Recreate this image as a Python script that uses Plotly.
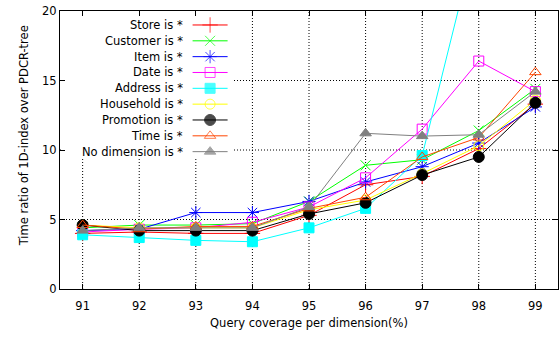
import plotly.graph_objects as go

coverage = [91, 92, 93, 94, 95, 96, 97, 98, 99]

store = [4.0, 4.1, 4.0, 4.0, 5.3, 7.5, 8.1, 10.1, 13.3]
customer = [4.4, 4.6, 4.6, 4.7, 6.3, 8.9, 9.3, 11.4, 14.4]
item = [4.2, 4.3, 5.5, 5.5, 6.3, 7.7, 8.8, 10.5, 13.1]
date = [4.1, 4.3, 4.4, 4.8, 5.9, 8.0, 11.5, 16.4, 14.2]
address = [3.9, 3.7, 3.5, 3.4, 4.4, 5.8, 9.6, 26.0, 27.0]
household = [4.6, 4.4, 4.4, 4.4, 5.7, 6.4, 8.3, 10.3, 13.6]
promotion = [4.6, 4.2, 4.2, 4.2, 5.4, 6.2, 8.2, 9.5, 13.4]
time_ = [4.6, 4.3, 4.5, 4.5, 5.8, 6.6, 9.5, 10.9, 15.6]
no_dim = [4.2, 4.4, 4.4, 4.4, 5.9, 11.2, 11.0, 11.1, 14.2]

names = ["Store is *", "Customer is *", "Item is *", "Date is *", "Address is *",
         "Household is *", "Promotion is *", "Time is *", "No dimension is *"]
series = [store, customer, item, date, address, household, promotion, time_, no_dim]
colors = ["#ff0000", "#00ff00", "#0000ff", "#ff00ff", "#00ffff",
          "#ffff00", "#000000", "#ff4500", "#808080"]
symbols = ["cross-thin-open", "x-thin-open", "asterisk-open", "square-open", "square",
           "circle-open", "circle", "triangle-up-open", "triangle-up"]
sizes = [11, 10, 11, 10, 10, 10, 11, 10, 10]

y_ticks = [0, 5, 10, 15, 20]
x_range = [90.6, 99.4]
y_range = [0, 20]

FONT = "DejaVu Sans"

# plot-area geometry in pixels (for placing the key only)
PL, PR, PT, PB = 60.0, 557.7, 11.0, 289.3
W = PR - PL
H = PB - PT


def px_to_x(px):
    return x_range[0] + (px - PL) / W * (x_range[1] - x_range[0])


def py_to_y(py):
    return y_range[0] + (PB - py) / H * (y_range[1] - y_range[0])


fig = go.Figure()

# dotted grid drawn as shapes (below traces), then the opaque key box on top of it
for xv in coverage:
    fig.add_shape(type="line", xref="x", yref="y", x0=xv, x1=xv,
                  y0=y_range[0], y1=y_range[1],
                  line=dict(color="#000000", width=1, dash="1px,2px"), layer="below")
for yv in y_ticks[1:-1]:
    fig.add_shape(type="line", xref="x", yref="y", x0=x_range[0], x1=x_range[1],
                  y0=yv, y1=yv,
                  line=dict(color="#000000", width=1, dash="1px,2px"), layer="below")
fig.add_shape(type="rect", xref="x", yref="y",
              x0=px_to_x(61), x1=px_to_x(233), y0=py_to_y(158), y1=py_to_y(12),
              fillcolor="white", line=dict(width=0), layer="below")

for name, ys, c, s, sz in zip(names, series, colors, symbols, sizes):
    fig.add_trace(go.Scatter(
        x=coverage, y=ys, mode="lines+markers", name=name,
        line=dict(color=c, width=1),
        marker=dict(symbol=s, size=sz, color=c, line=dict(color=c, width=1)),
        showlegend=False,
    ))

# custom gnuplot-style key (text left, sample right)
key_top = 25.0
key_step = 15.85
for i, (name, c, s, sz) in enumerate(zip(names, colors, symbols, sizes)):
    py = key_top + i * key_step
    yp = (PB - py) / H
    x0 = (192.5 - PL) / W
    x1 = (227.5 - PL) / W
    xm = (210 - PL) / W
    fig.add_trace(go.Scatter(
        x=[x0, xm, x1], y=[yp, yp, yp], mode="lines+markers", xaxis="x2", yaxis="y2",
        line=dict(color=c, width=1),
        marker=dict(symbol=s, size=[0, sz, 0], color=c, line=dict(color=c, width=1)),
        showlegend=False, hoverinfo="skip"))
    fig.add_annotation(
        x=(185 - PL) / W, y=yp, xref="paper", yref="paper", text=name,
        showarrow=False, xanchor="right", yanchor="middle",
        font=dict(family=FONT, size=11.5, color="#000000"))

fig.add_annotation(
    x=(23.5 - PL) / W, y=(PB - 136) / H, xref="paper", yref="paper",
    text="Time ratio of 1D-index over PDCR-tree", textangle=-90,
    showarrow=False, xanchor="center", yanchor="middle",
    font=dict(family=FONT, size=11.5, color="#000000"))

fig.update_layout(
    width=560, height=338,
    margin=dict(l=PL, r=560 - PR, t=PT, b=338 - PB),
    paper_bgcolor="white", plot_bgcolor="white",
    font=dict(family=FONT, size=12, color="#000000"),
    xaxis=dict(
        range=x_range, tickvals=coverage, ticktext=[str(v) for v in coverage],
        showline=True, linecolor="black", linewidth=1, mirror="ticks",
        ticks="inside", ticklen=5, tickcolor="black",
        showgrid=False, zeroline=False, ticklabelstandoff=6,
        title=dict(text="Query coverage per dimension(%)", standoff=7,
                   font=dict(family=FONT, size=11.5)),
        tickfont=dict(family=FONT, size=11.5),
    ),
    yaxis=dict(
        range=y_range, tickvals=y_ticks,
        showline=True, linecolor="black", linewidth=1, mirror="ticks",
        ticks="inside", ticklen=5, tickcolor="black",
        showgrid=False, zeroline=False,
        tickfont=dict(family=FONT, size=11.5),
    ),
    xaxis2=dict(overlaying="x", range=[0, 1], visible=False, fixedrange=True),
    yaxis2=dict(overlaying="y", range=[0, 1], visible=False, fixedrange=True),
)

fig.write_html("out.html", config={"displayModeBar": False},
               post_script="document.body.style.margin='0';")
